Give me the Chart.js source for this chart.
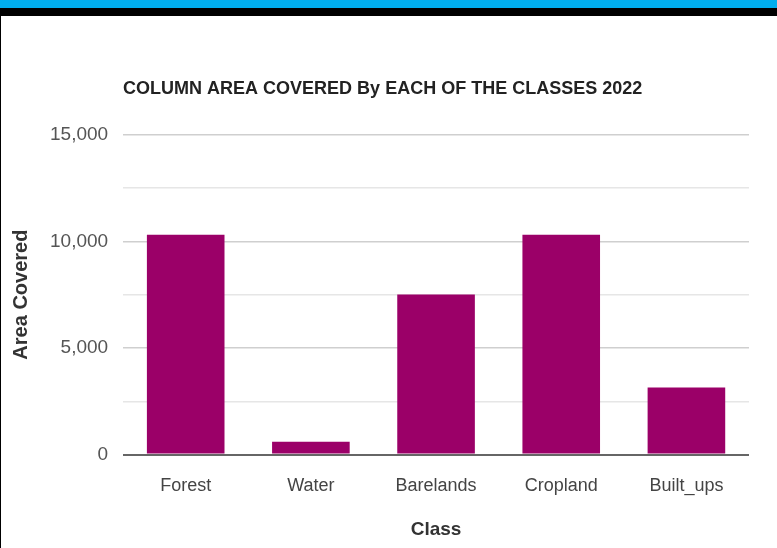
<!DOCTYPE html>
<html>
<head>
<meta charset="utf-8">
<script src="https://cdn.jsdelivr.net/npm/chart.js@4.4.0/dist/chart.umd.min.js"></script>
<style>
  body { margin: 0; background: #fff; overflow: hidden; }
  .blue { height: 8px; background: #00aeef; }
  .black { height: 8px; background: #000; }
  .wrap { width: 776px; height: 532px; border-left: 1px solid #000; position: relative; }
</style>
</head>
<body>
<div class="blue"></div>
<div class="black"></div>
<div class="wrap"><canvas id="areaChart"></canvas></div>
<script>
// land cover classes and the area each covers in 2022
const classes = ['Forest', 'Water', 'Barelands', 'Cropland', 'Built_ups'];
const areaCovered = [10300, 600, 7500, 10300, 3150];
const yTicks = [0, 5000, 10000, 15000];

const sans = '"Liberation Sans", Arial, sans-serif';

const ctx = document.getElementById('areaChart').getContext('2d');
const areaChart = new Chart(ctx, {
    type: 'bar',
    data: {
        labels: classes,
        datasets: [{
            label: 'Area Covered',
            data: areaCovered,
            backgroundColor: '#9b0068',
            borderWidth: 0,
            categoryPercentage: 0.62,
            barPercentage: 1
        }]
    },
    options: {
        responsive: true,
        maintainAspectRatio: false,
        animation: false,
        layout: { padding: { top: 62, right: 28, bottom: 3, left: 4 } },
        plugins: {
            legend: { display: false },
            tooltip: { enabled: false },
            title: {
                display: true,
                text: 'COLUMN AREA COVERED By EACH OF THE CLASSES 2022',
                align: 'start',
                fullSize: false,
                color: '#222',
                font: { family: sans, size: 18, weight: 'bold' },
                padding: { top: 0, bottom: 35 }
            }
        },
        scales: {
            x: {
                grid: { display: false, drawTicks: false },
                border: { display: false },
                ticks: {
                    color: '#444',
                    padding: 21,
                    font: { family: sans, size: 18 }
                },
                title: {
                    display: true,
                    text: 'Class',
                    color: '#333',
                    font: { family: sans, size: 19, weight: 'bold' },
                    padding: { top: 0 }
                }
            },
            y: {
                min: 0,
                max: 15000,
                border: { display: false },
                grid: {
                    drawTicks: false,
                    lineWidth: (c) => c.tick && c.tick.value === 0 ? 2 : 1.5,
                    color: (c) => {
                        if (!c.tick) return '#ddd';
                        if (c.tick.value === 0) return '#666';
                        return yTicks.includes(c.tick.value) ? '#cfcfcf' : '#e6e6e6';
                    }
                },
                ticks: {
                    stepSize: 2500,
                    color: '#555',
                    padding: 15,
                    font: { family: sans, size: 19 },
                    callback: (v) => yTicks.includes(v) ? v.toLocaleString('en-US') : ''
                },
                title: {
                    display: true,
                    text: 'Area Covered',
                    color: '#333',
                    font: { family: sans, size: 20, weight: 'bold' },
                    padding: { bottom: 2 }
                }
            }
        }
    }
});
</script>
</body>
</html>
